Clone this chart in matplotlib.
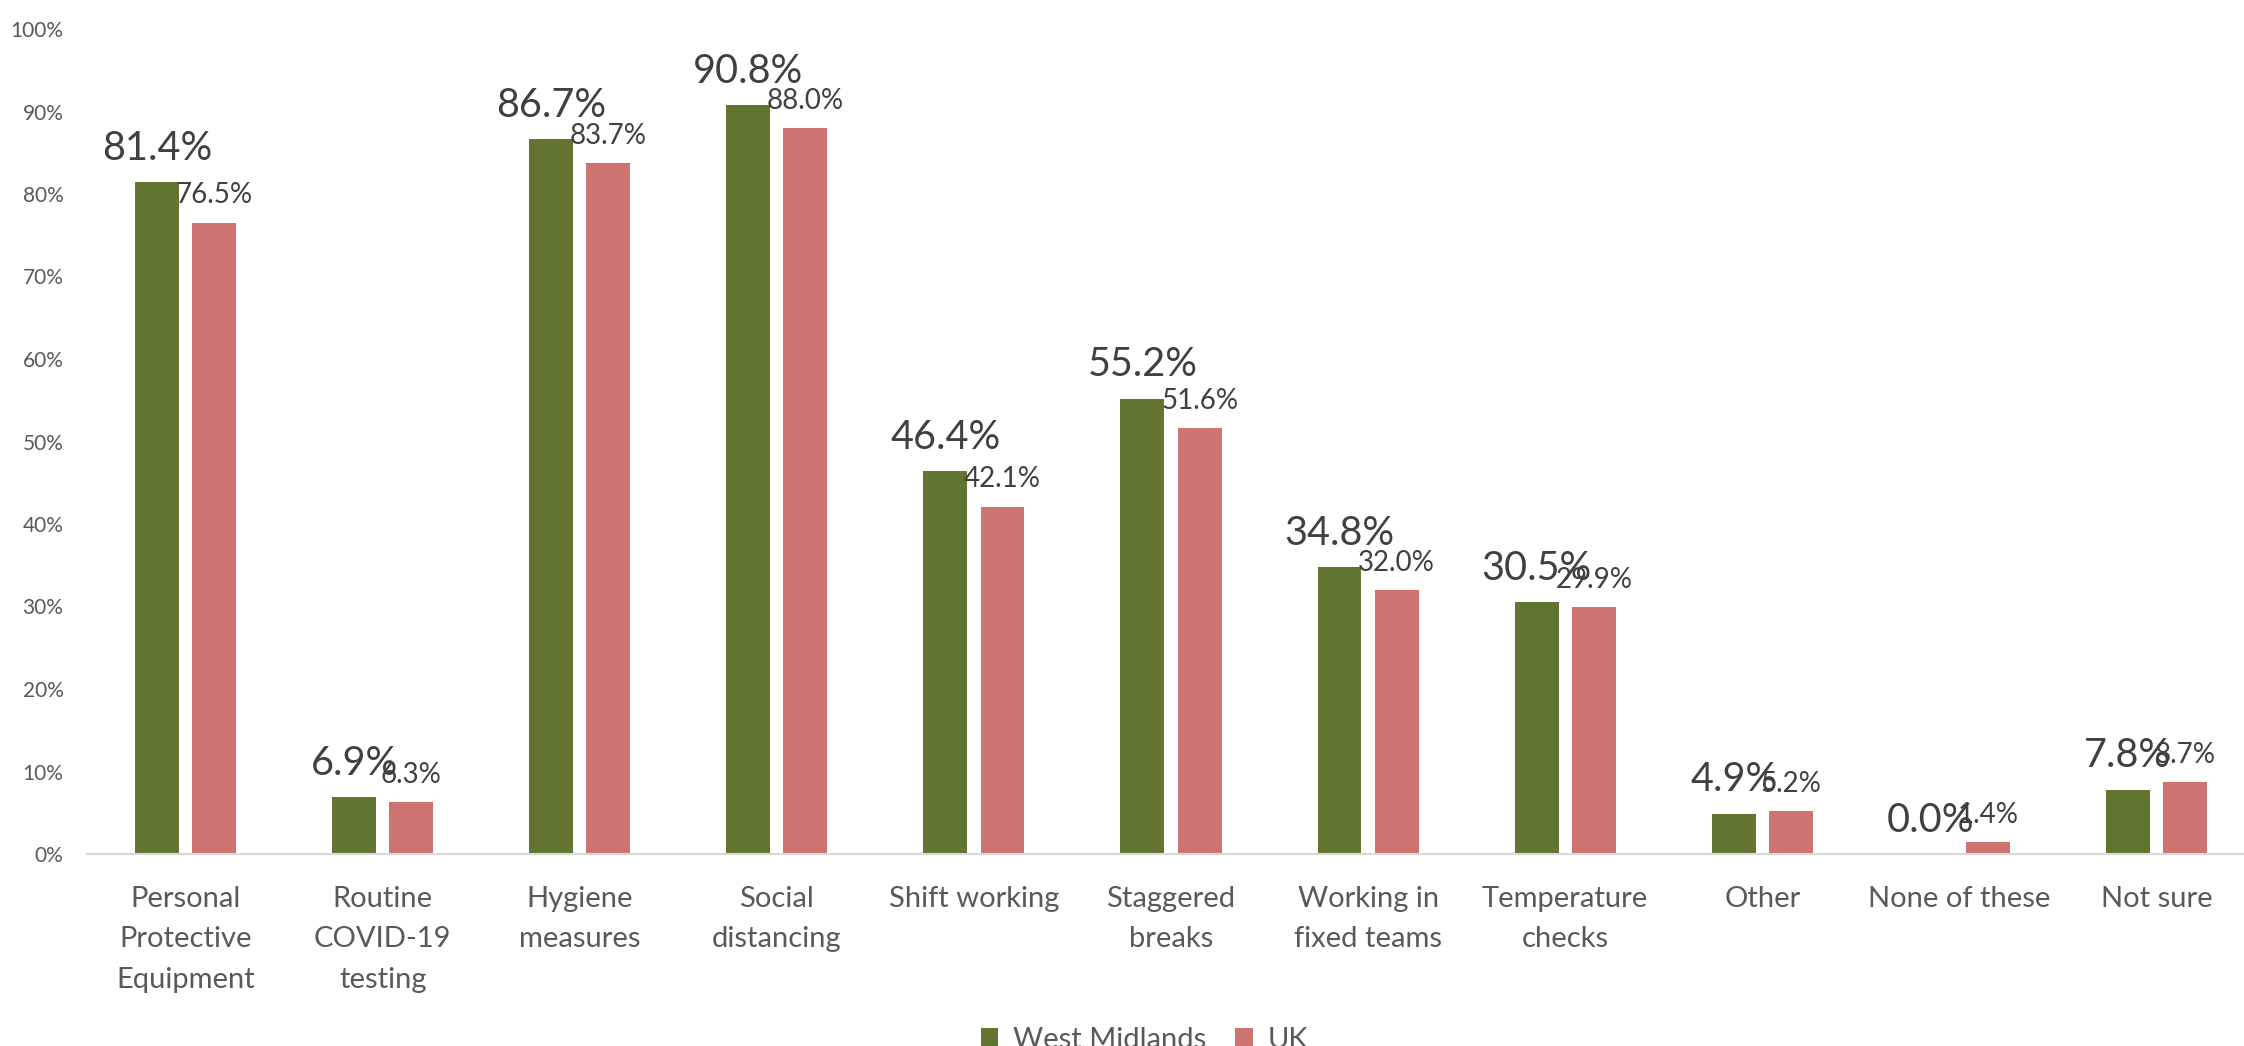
import matplotlib
matplotlib.use("Agg")
import matplotlib.pyplot as plt
import numpy as np

plt.rcParams['font.family'] = ['Lato', 'DejaVu Sans']

categories = ["Personal\nProtective\nEquipment", "Routine\nCOVID-19\ntesting", "Hygiene\nmeasures",
              "Social\ndistancing", "Shift working", "Staggered\nbreaks", "Working in\nfixed teams",
              "Temperature\nchecks", "Other", "None of these", "Not sure"]
west_midlands = [81.4, 6.9, 86.7, 90.8, 46.4, 55.2, 34.8, 30.5, 4.9, 0.0, 7.8]
uk = [76.5, 6.3, 83.7, 88.0, 42.1, 51.6, 32.0, 29.9, 5.2, 1.4, 8.7]
series_names = ["West Midlands", "UK"]

green = "#627530"
red = "#CD7372"

fig = plt.figure(figsize=(22.44, 10.46), dpi=100)
ax = fig.add_axes([87 / 2244, 192 / 1046, 2168 / 2244, 825 / 1046])

x = np.arange(len(categories))
w = 0.223
off = 0.145
b1 = ax.bar(x - off, west_midlands, w, color=green, label=series_names[0])
b2 = ax.bar(x + off, uk, w, color=red, label=series_names[1])

# 数据标签
for xi, v in zip(x, west_midlands):
    ax.annotate("{:.1f}%".format(v), (xi - off, v), xytext=(0, 16), textcoords="offset points",
                ha="center", va="baseline", fontsize=28.5, color="#404040")
for xi, v in zip(x, uk):
    ax.annotate("{:.1f}%".format(v), (xi + off, v), xytext=(0, 14), textcoords="offset points",
                ha="center", va="baseline", fontsize=20, color="#404040")

ax.set_xlim(-0.5, len(categories) - 0.5)
ax.set_ylim(0, 100)
ax.set_yticks(np.arange(0, 101, 10))
ax.set_yticklabels(["{}%".format(t) for t in range(0, 101, 10)])
ax.set_xticks(x)
ax.set_xticklabels(categories)

for s in ["top", "right", "left"]:
    ax.spines[s].set_visible(False)
ax.spines["bottom"].set_color("#D9D9D9")
ax.spines["bottom"].set_linewidth(1.5)
ax.tick_params(axis="both", length=0, colors="#595959")
ax.tick_params(axis="y", labelsize=15, pad=17)
ax.tick_params(axis="x", labelsize=21, pad=23)
for lbl in ax.get_xticklabels():
    lbl.set_linespacing(1.68)
    lbl.set_verticalalignment("top")

fig.legend(handles=[b1, b2], loc="center", bbox_to_anchor=(0.51, 0.006), ncol=2, frameon=False,
           fontsize=21, handlelength=0.6, handleheight=0.6, columnspacing=1.0, handletextpad=0.5,
           labelcolor="#595959")

fig.savefig("out.png", dpi=100)
plt.close()
